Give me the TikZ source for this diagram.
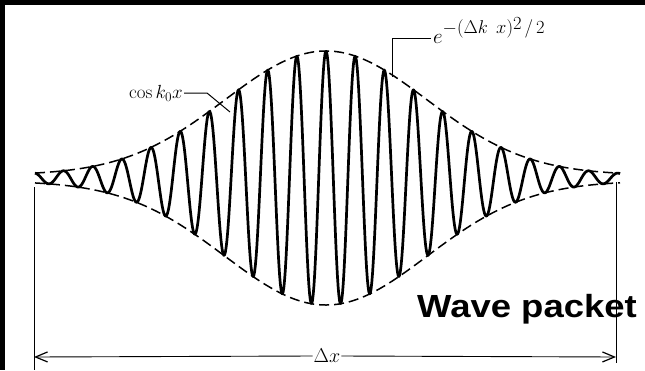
\RequirePackage{fix-cm}
\documentclass[tikz,border=0pt]{standalone}
\usepackage{graphicx}
\usepackage{fontspec}
\newfontfamily\arialb{Liberation Sans}
\usetikzlibrary{arrows.meta}
\begin{document}
\begin{tikzpicture}[x=1pt,y=-1pt,
  declare function={envl(\x)=124*exp(-0.5*((\x-326)/101)*((\x-326)/101))+3;},
  wave/.style={line width=2.7pt, line join=round},
  envline/.style={line width=1.5pt, dash pattern=on 10pt off 5pt},
  dim/.style={line width=0.9pt},
  tip/.style={-{Straight Barb[length=12pt,width=10pt,line width=1.2pt]}},
  lead/.style={line width=1pt},
  lbl/.style={font=\fontsize{19}{22}\selectfont, inner sep=1pt},
]
\useasboundingbox (0,0) rectangle (645,370);
\fill[black] (0,0) rectangle (645,5);
\fill[black] (0,0) rectangle (5,370);

% envelope
\draw[envline] plot[domain=35:620, samples=200, variable=\x] (\x,{178-envl(\x)});
\draw[envline] plot[domain=35:620, samples=200, variable=\x] (\x,{178+envl(\x)});
% wave
\draw[wave] plot[domain=35:620, samples=800, variable=\x] (\x,{178-envl(\x)*cos((\x-326)*12.3288)});

% labels
\node[lbl, anchor=east] (cos) at (184,93) {$\cos k_0x$};
\coordinate (cosend) at (230,112);
\draw[lead] (cos.east) -- ++(23,0) -- (cosend);

\node[lbl, anchor=base west, inner sep=0pt] (gau) at (433,43)
  {\fontsize{21}{24}\selectfont$e$\raisebox{10pt}{\fontsize{18.5}{22}\selectfont$-(\Delta k\;\,x)$\raisebox{4pt}{$2$}\,$/$\,$2$}};
\coordinate (gauend) at (392,77);
\draw[lead] (gauend) |- ([xshift=-2pt,yshift=5pt]gau.base west);

% dimension
\node[lbl, font=\fontsize{20}{24}\selectfont] (dx) at (327,356) {$\Delta x$};
\coordinate (L) at (34,357);
\coordinate (R) at (616,357);
\draw[dim,tip] (dx.west) -- (L);
\draw[dim,tip] (dx.east) -- (R);
\coordinate (Ltop) at (34,187);
\coordinate (Lbot) at (34,370);
\coordinate (Rtop) at (616,182);
\coordinate (Rbot) at (616,363);
\draw[dim] (Ltop) -- (Lbot);
\draw[dim] (Rtop) -- (Rbot);

\node[anchor=base west, inner sep=0pt, font=\arialb\bfseries\fontsize{32}{36}\selectfont] (wp) at (417,317) {\scalebox{1.14}[1]{Wave packet}};
\end{tikzpicture}
\end{document}
